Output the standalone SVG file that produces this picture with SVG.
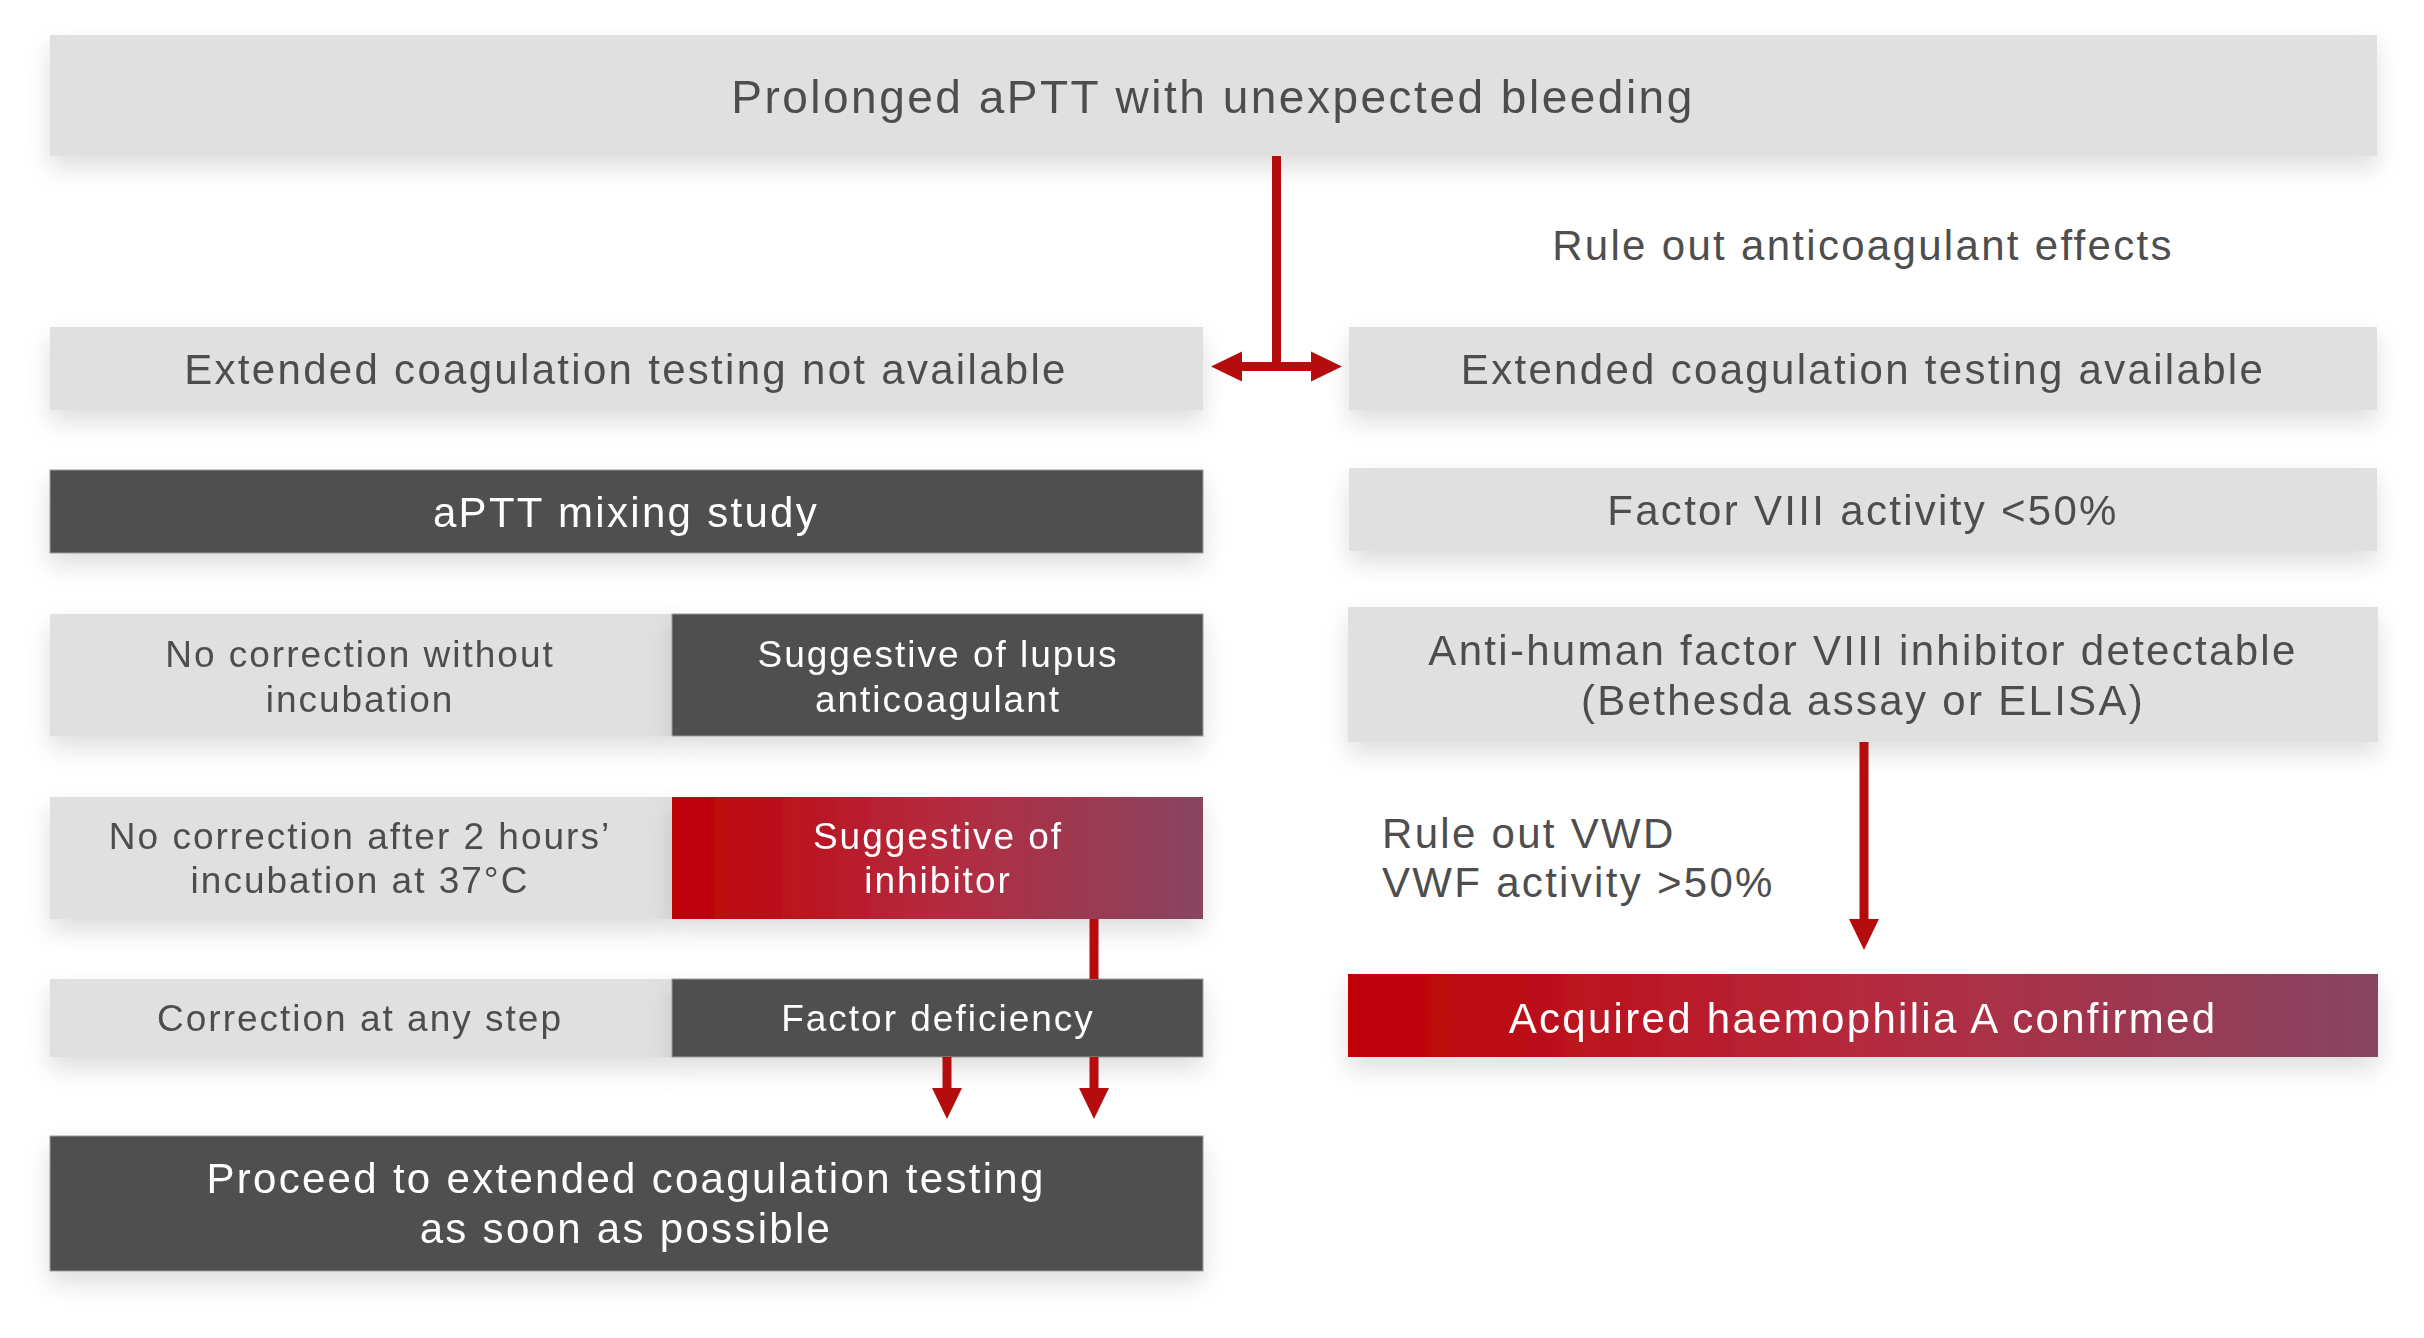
<svg xmlns="http://www.w3.org/2000/svg" width="2424" height="1338" viewBox="0 0 2424 1338">
<defs>
<style>
.lt{fill:#e0e0e0}
.dk{fill:#505050;stroke:#9a9a9a;stroke-width:1}
.rd{fill:url(#rg)}
text{font-family:"Liberation Sans",Arial,sans-serif;font-size:42px;letter-spacing:2.3px;text-anchor:middle}
.g{fill:#4e4e4e}
.w{fill:#ffffff}
.ttl{font-size:46px;letter-spacing:2.5px}
.sm{font-size:37px;letter-spacing:2px}
.la{text-anchor:start}
.con{stroke:#b50d0d;stroke-width:9;fill:none}
</style>
<linearGradient id="rg" x1="0" y1="0" x2="1" y2="0">
<stop offset="0" stop-color="#c00006"/>
<stop offset="0.5" stop-color="#b52a3e"/>
<stop offset="1" stop-color="#884562"/>
</linearGradient>
<filter id="sh" x="-5%" y="-30%" width="110%" height="190%">
<feDropShadow dx="0" dy="12" stdDeviation="12" flood-color="#000" flood-opacity="0.13"/>
</filter>
<marker id="ah" markerUnits="userSpaceOnUse" markerWidth="31" markerHeight="31" refX="0" refY="15" orient="auto-start-reverse" viewBox="0 0 31 30">
<path d="M0,0 L31,15 L0,30 z" fill="#b50d0d"/>
</marker>
</defs>
<rect width="2424" height="1338" fill="#ffffff"/>

<g id="n-top" filter="url(#sh)">
<rect class="lt" x="50" y="35" width="2327" height="121"/>
<text class="g ttl" x="1213" y="113">Prolonged aPTT with unexpected bleeding</text>
</g>

<g id="n-not-available" filter="url(#sh)">
<rect class="lt" x="50" y="327" width="1153" height="83"/>
<text class="g" x="626" y="384">Extended coagulation testing not available</text>
</g>

<g id="n-available" filter="url(#sh)">
<rect class="lt" x="1349" y="327" width="1028" height="83"/>
<text class="g" x="1863" y="384">Extended coagulation testing available</text>
</g>

<g id="n-mixing" filter="url(#sh)">
<rect class="dk" x="50" y="470" width="1153" height="83"/>
<text class="w" x="626" y="527">aPTT mixing study</text>
</g>

<g id="n-f8" filter="url(#sh)">
<rect class="lt" x="1349" y="468" width="1028" height="83"/>
<text class="g" x="1863" y="525">Factor VIII activity &lt;50%</text>
</g>

<g id="n-nocorr1" filter="url(#sh)">
<rect class="lt" x="50" y="614" width="622" height="122"/>
<text class="g sm" x="360" y="667">No correction without</text>
<text class="g sm" x="360" y="712">incubation</text>
</g>
<g id="n-lupus" filter="url(#sh)">
<rect class="dk" x="672" y="614" width="531" height="122"/>
<text class="w sm" x="938" y="667">Suggestive of lupus</text>
<text class="w sm" x="938" y="712">anticoagulant</text>
</g>

<g id="n-nocorr2" filter="url(#sh)">
<rect class="lt" x="50" y="797" width="622" height="122"/>
<text class="g sm" x="360" y="849">No correction after 2 hours’</text>
<text class="g sm" x="360" y="893">incubation at 37°C</text>
</g>
<g id="n-inhibitor" filter="url(#sh)">
<rect class="rd" x="672" y="797" width="531" height="122"/>
<text class="w sm" x="938" y="849">Suggestive of</text>
<text class="w sm" x="938" y="893">inhibitor</text>
</g>

<g id="n-corr" filter="url(#sh)">
<rect class="lt" x="50" y="979" width="622" height="78"/>
<text class="g sm" x="360" y="1031">Correction at any step</text>
</g>
<g id="n-factor-def" filter="url(#sh)">
<rect class="dk" x="672" y="979" width="531" height="78"/>
<text class="w sm" x="938" y="1031">Factor deficiency</text>
</g>

<g id="n-proceed" filter="url(#sh)">
<rect class="dk" x="50" y="1136" width="1153" height="135"/>
<text class="w" x="626" y="1193">Proceed to extended coagulation testing</text>
<text class="w" x="626" y="1243">as soon as possible</text>
</g>

<g id="n-antihuman" filter="url(#sh)">
<rect class="lt" x="1348" y="607" width="1030" height="135"/>
<text class="g" x="1863" y="665">Anti-human factor VIII inhibitor detectable</text>
<text class="g" x="1863" y="715">(Bethesda assay or ELISA)</text>
</g>

<g id="n-confirmed" filter="url(#sh)">
<rect class="rd" x="1348" y="974" width="1030" height="83"/>
<text class="w" x="1863" y="1033">Acquired haemophilia A confirmed</text>
</g>

<g id="connectors">
<path class="con" d="M1276.5 156 V371"/>
<path class="con" d="M1242 366.5 H1311" marker-start="url(#ah)" marker-end="url(#ah)"/>
<path class="con" d="M1094 919 V979"/>
<path class="con" d="M947 1057 V1088" marker-end="url(#ah)"/>
<path class="con" d="M1094 1057 V1088" marker-end="url(#ah)"/>
<path class="con" d="M1864 742 V919" marker-end="url(#ah)"/>
</g>

<g id="labels">
<text class="g" x="1863" y="260">Rule out anticoagulant effects</text>
<text class="g la" x="1382" y="848">Rule out VWD</text>
<text class="g la" x="1382" y="897">VWF activity &gt;50%</text>
</g>
</svg>
